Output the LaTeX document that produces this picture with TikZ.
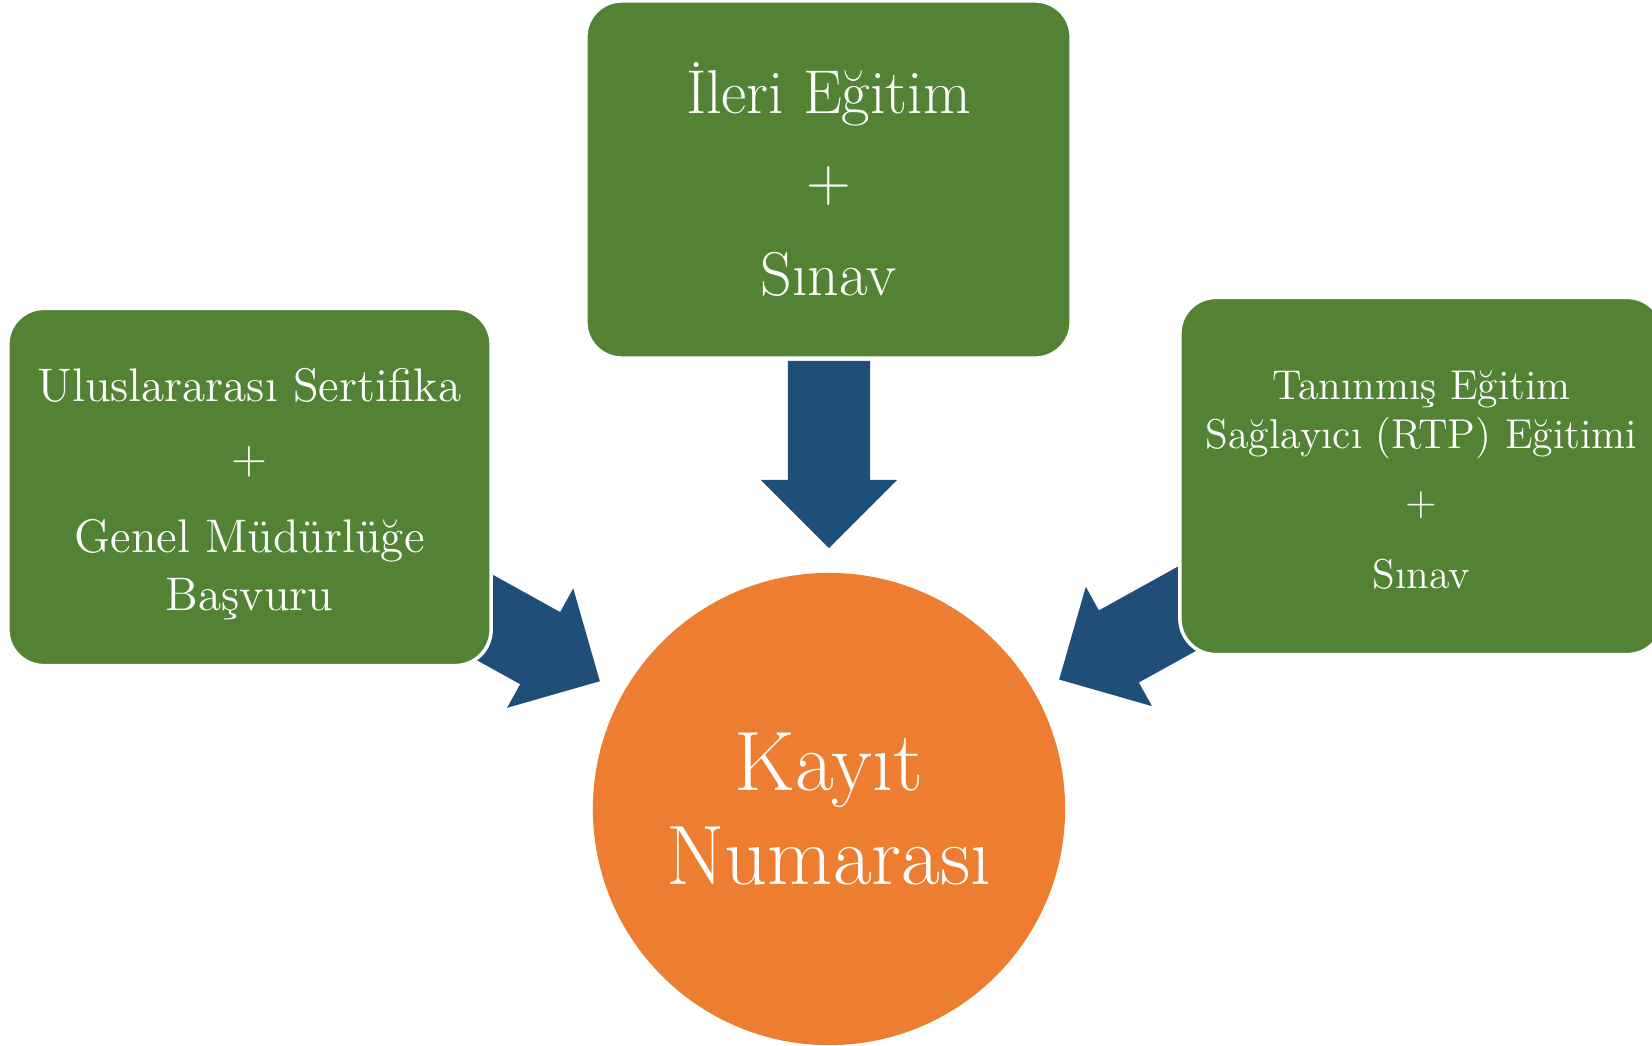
\documentclass[tikz,border=0pt]{standalone}
\usepackage{fontspec}
\usepackage{tikz}
\usetikzlibrary{shapes,shapes.arrows,positioning}
\usepackage{color}
\definecolor{boxgreen}{RGB}{84,130,53}
\definecolor{arrowblue}{RGB}{31,78,121}
\definecolor{keyorange}{RGB}{237,125,49}
\tikzset{box/.style={rectangle, rounded corners=0.36cm, fill=boxgreen, draw=white, line width=1pt, minimum width=4.83cm, minimum height=3.57cm, text=white, align=center, inner sep=0pt}}
\tikzset{key/.style={circle, fill=keyorange, minimum size=4.72cm, inner sep=0pt, text=white, align=center}}
\tikzset{blockarrow/.style={single arrow, fill=arrowblue, minimum height=1.87cm, inner xsep=0pt, inner ysep=0.405cm, single arrow head extend=0.27cm, single arrow tip angle=90, anchor=tip}}

\begin{document}
\begin{tikzpicture}[x=0.01cm, y=-0.01cm]
  \useasboundingbox (0,0) rectangle (1652,1045);
  \node[key, font=\fontsize{24}{26.5}\selectfont] (kayit) at (829,809) {Kayıt\\Numarası};
  \node[blockarrow, rotate=-90] (a1) at (829,549) {};
  \node[blockarrow, rotate=-29] (a0) at (600.7,681.7) {};
  \node[blockarrow, rotate=-151] (a2) at (1058.3,680) {};
  \node[box, minimum width=4.85cm, font=\fontsize{17.6}{26}\selectfont] (ileri) at (828.5,179.5) {İleri Eğitim\\[-1pt]+\\[1pt]Sınav};
  \node[box, font=\fontsize{13.4}{16.5}\selectfont] (ulus) at (249.5,487) {\rule{0pt}{13.3pt}Uluslararası Sertifika\\[4pt]+\\[6pt]Genel Müdürlüğe\\Başvuru};
  \node[box, font=\fontsize{11.85}{14}\selectfont] (rtp) at (1421.5,476) {\rule{0pt}{10.5pt}Tanınmış Eğitim\\Sağlayıcı (RTP) Eğitimi\\[5pt]+\\[7pt]Sınav};
\end{tikzpicture}
\end{document}
